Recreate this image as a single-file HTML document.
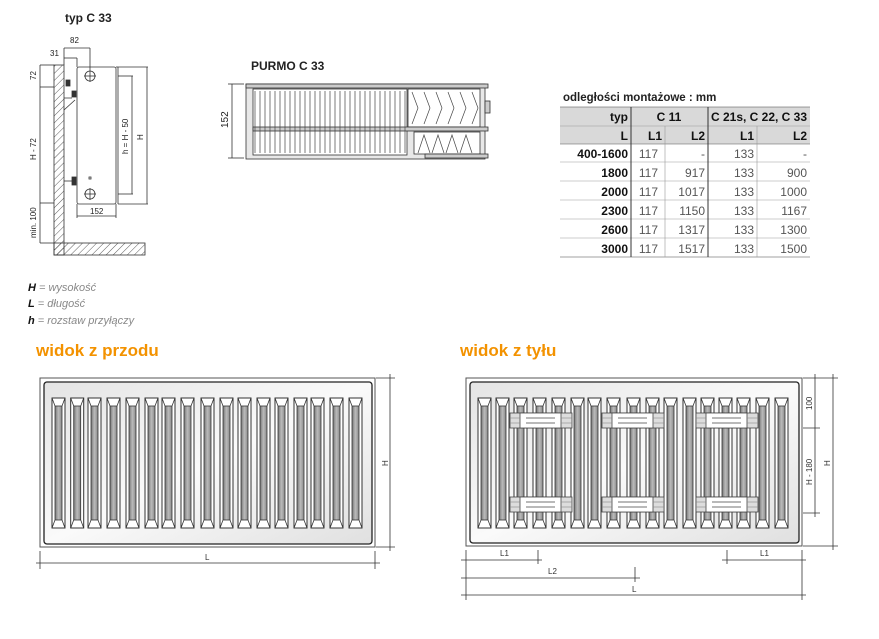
<!DOCTYPE html>
<html><head><meta charset="utf-8"><style>
html,body{margin:0;padding:0;background:#fff;}
svg{display:block;}
text{font-family:"Liberation Sans",sans-serif;}
</style></head><body>
<svg width="879" height="639" viewBox="0 0 879 639" xmlns="http://www.w3.org/2000/svg">
<defs>
<linearGradient id="fg" x1="0" y1="0" x2="1" y2="0">
<stop offset="0" stop-color="#777"/><stop offset="0.5" stop-color="#bbb"/><stop offset="1" stop-color="#888"/>
</linearGradient>
<linearGradient id="pg" x1="0" y1="0" x2="1" y2="1">
<stop offset="0" stop-color="#e4e4e4"/><stop offset="0.5" stop-color="#fafafa"/><stop offset="1" stop-color="#e0e0e0"/>
</linearGradient>
<pattern id="hatch" width="5" height="5" patternUnits="userSpaceOnUse" patternTransform="rotate(45)">
<line x1="0" y1="0" x2="0" y2="5" stroke="#333" stroke-width="0.8"/>
</pattern>
<g id="fin">
<rect x="0" y="0" width="13" height="130" fill="#fff" stroke="#333" stroke-width="1"/>
<rect x="3" y="8" width="7" height="114" fill="url(#fg)" stroke="#333" stroke-width="0.8"/>
<path d="M0 0L3 8M13 0L10 8M0 130L3 122M13 130L10 122" stroke="#333" stroke-width="0.8" fill="none"/>
</g>
<g id="brk">
<rect x="0" y="0" width="62" height="15" fill="#ddd" stroke="#444" stroke-width="0.8"/>
<rect x="10" y="0" width="41" height="15" fill="#fff" stroke="#444" stroke-width="0.8"/>
<line x1="16" y1="5" x2="45" y2="5" stroke="#444" stroke-width="0.8"/>
<line x1="16" y1="10" x2="45" y2="10" stroke="#444" stroke-width="0.8"/>
<line x1="0" y1="5" x2="10" y2="5" stroke="#888" stroke-width="0.6"/>
<line x1="0" y1="10" x2="10" y2="10" stroke="#888" stroke-width="0.6"/>
<line x1="51" y1="5" x2="62" y2="5" stroke="#888" stroke-width="0.6"/>
<line x1="51" y1="10" x2="62" y2="10" stroke="#888" stroke-width="0.6"/>
</g>
</defs>

<!-- side view -->
<text x="65" y="22" font-size="12" font-weight="bold" fill="#222">typ C 33</text>
<g stroke="#333" stroke-width="0.8" fill="none">
<rect x="54" y="65" width="10" height="190" fill="url(#hatch)"/>
<rect x="54" y="243" width="91" height="12" fill="url(#hatch)"/>
<rect x="64" y="65" width="0" height="0"/>
<rect x="77" y="67" width="39" height="137" rx="2" fill="#fff"/>
<line x1="116" y1="67" x2="118" y2="67"/><line x1="118" y1="67" x2="118" y2="204"/>
<circle cx="90" cy="76" r="5"/><line x1="84" y1="76" x2="96" y2="76"/><line x1="90" y1="70" x2="90" y2="82"/>
<circle cx="90" cy="194" r="5"/><line x1="84" y1="194" x2="96" y2="194"/><line x1="90" y1="188" x2="90" y2="200"/>
<rect x="89" y="177" width="2" height="2"/>
<rect x="66" y="80" width="4" height="6" fill="#333"/>
<rect x="72" y="91" width="4" height="6" fill="#333"/>
<path d="M64 98 L72 98 M64 110 L75 100"/>
<rect x="72" y="177" width="4" height="8" fill="#333"/><line x1="64" y1="181" x2="72" y2="181"/>
<line x1="64" y1="48" x2="64" y2="65"/><line x1="90" y1="48" x2="90" y2="70"/><line x1="64" y1="48" x2="90" y2="48"/>
<line x1="64" y1="58" x2="77" y2="58"/><line x1="77" y1="58" x2="77" y2="67"/>
<line x1="40" y1="65" x2="54" y2="65"/><line x1="40" y1="87" x2="54" y2="87"/><line x1="40" y1="203" x2="54" y2="203"/><line x1="40" y1="243" x2="54" y2="243"/>
<line x1="40" y1="65" x2="40" y2="243"/>
<line x1="118" y1="76" x2="133" y2="76"/><line x1="118" y1="194" x2="133" y2="194"/><line x1="132" y1="76" x2="132" y2="194"/>
<line x1="118" y1="67" x2="148" y2="67"/><line x1="118" y1="204" x2="148" y2="204"/><line x1="147" y1="67" x2="147" y2="204"/>
<line x1="77" y1="204" x2="77" y2="218"/><line x1="116" y1="204" x2="116" y2="218"/><line x1="77" y1="216" x2="116" y2="216"/>
</g>
<text x="70" y="43" font-size="8" fill="#222">82</text>
<text x="50" y="56" font-size="8" fill="#222">31</text>
<text transform="translate(36,80) rotate(-90)" font-size="8" fill="#222">72</text>
<text transform="translate(36,160) rotate(-90)" font-size="8" fill="#222">H - 72</text>
<text transform="translate(36,238) rotate(-90)" font-size="8" fill="#222">min. 100</text>
<text transform="translate(128,154) rotate(-90)" font-size="8" fill="#222">h = H - 50</text>
<text transform="translate(143,140) rotate(-90)" font-size="8" fill="#222">H</text>
<text x="90" y="214" font-size="8" fill="#222">152</text>

<text x="28" y="291" font-size="11" font-style="italic" fill="#888"><tspan font-weight="bold" fill="#111">H</tspan> = wysokość</text>
<text x="28" y="307" font-size="11" font-style="italic" fill="#888"><tspan font-weight="bold" fill="#111">L</tspan> = długość</text>
<text x="28" y="324" font-size="11" font-style="italic" fill="#888"><tspan font-weight="bold" fill="#111">h</tspan> = rozstaw przyłączy</text>

<!-- section -->
<text x="251" y="70" font-size="12" font-weight="bold" fill="#222">PURMO C 33</text>
<g stroke="#333" stroke-width="0.8" fill="none">
<line x1="228" y1="84" x2="244" y2="84"/><line x1="228" y1="158" x2="244" y2="158"/><line x1="232" y1="84" x2="232" y2="158"/>
<rect x="246" y="84" width="239" height="75" fill="#e8e8e8"/>
<rect x="253" y="89" width="154" height="66" fill="#fff"/>
<rect x="408" y="89" width="72" height="38" fill="#fff"/>
<rect x="414" y="132" width="66" height="22" fill="#fff"/>
<rect x="485" y="101" width="5" height="12" fill="#ccc"/>
<rect x="246" y="84" width="242" height="4" fill="#ccc"/>
<rect x="253" y="127" width="235" height="4" fill="#ccc"/>
<rect x="425" y="154" width="63" height="4" fill="#ccc"/>
</g>
<g stroke="#444" stroke-width="0.7" fill="none">
<path d="M255 91v62M260 91v62M265 91v62M270 91v62M275 91v62M280 91v62M285 91v62M290 91v62M295 91v62M300 91v62M305 91v62M310 91v62M315 91v62M320 91v62M325 91v62M330 91v62M335 91v62M340 91v62M345 91v62M350 91v62M355 91v62M360 91v62M365 91v62M370 91v62M375 91v62M380 91v62M385 91v62M390 91v62M395 91v62M400 91v62M405 91v62"/>
<path d="M412 92l6 16l-6 16M424 92l6 16l-6 16M436 92l6 16l-6 16M448 92l6 16l-6 16M460 92l6 16l-6 16M472 92l6 16l-6 16"/>
<path d="M418 153l6-18l6 18M432 153l6-18l6 18M446 153l6-18l6 18M460 153l6-18l6 18"/>
</g>
<text transform="translate(228,128) rotate(-90)" font-size="10" fill="#222">152</text>

<!-- table -->
<text x="563" y="101" font-size="11.5" font-weight="bold" fill="#222">odległości montażowe : mm</text>
<rect x="560" y="107" width="250" height="37" fill="#d9d9d9"/>
<g stroke="#999" stroke-width="0.6">
<line x1="560" y1="107" x2="810" y2="107" stroke="#444"/>
<line x1="631" y1="126" x2="810" y2="126"/>
<line x1="560" y1="126" x2="631" y2="126"/>
<line x1="560" y1="144" x2="810" y2="144" stroke="#555"/>
<line x1="560" y1="162" x2="810" y2="162"/><line x1="560" y1="181" x2="810" y2="181"/><line x1="560" y1="200" x2="810" y2="200"/><line x1="560" y1="219" x2="810" y2="219"/><line x1="560" y1="238" x2="810" y2="238"/>
<line x1="560" y1="257" x2="810" y2="257" stroke="#444"/>
<line x1="631" y1="107" x2="631" y2="257" stroke="#333" stroke-width="1"/>
<line x1="708" y1="107" x2="708" y2="257" stroke="#333" stroke-width="1"/>
<line x1="665" y1="126" x2="665" y2="257"/>
<line x1="757" y1="126" x2="757" y2="257"/>
</g>
<g font-size="12" fill="#111" font-weight="bold">
<text x="628" y="121" text-anchor="end">typ</text>
<text x="669" y="121" text-anchor="middle">C 11</text>
<text x="759" y="121" text-anchor="middle">C 21s, C 22, C 33</text>
<text x="628" y="140" text-anchor="end">L</text>
<text x="662" y="140" text-anchor="end">L1</text>
<text x="705" y="140" text-anchor="end">L2</text>
<text x="754" y="140" text-anchor="end">L1</text>
<text x="807" y="140" text-anchor="end">L2</text>
<text x="628" y="158" text-anchor="end">400-1600</text>
<text x="628" y="177" text-anchor="end">1800</text>
<text x="628" y="196" text-anchor="end">2000</text>
<text x="628" y="215" text-anchor="end">2300</text>
<text x="628" y="234" text-anchor="end">2600</text>
<text x="628" y="253" text-anchor="end">3000</text>
</g>
<g font-size="12" fill="#555">
<text x="658" y="158" text-anchor="end">117</text><text x="705" y="158" text-anchor="end">-</text><text x="754" y="158" text-anchor="end">133</text><text x="807" y="158" text-anchor="end">-</text>
<text x="658" y="177" text-anchor="end">117</text><text x="705" y="177" text-anchor="end">917</text><text x="754" y="177" text-anchor="end">133</text><text x="807" y="177" text-anchor="end">900</text>
<text x="658" y="196" text-anchor="end">117</text><text x="705" y="196" text-anchor="end">1017</text><text x="754" y="196" text-anchor="end">133</text><text x="807" y="196" text-anchor="end">1000</text>
<text x="658" y="215" text-anchor="end">117</text><text x="705" y="215" text-anchor="end">1150</text><text x="754" y="215" text-anchor="end">133</text><text x="807" y="215" text-anchor="end">1167</text>
<text x="658" y="234" text-anchor="end">117</text><text x="705" y="234" text-anchor="end">1317</text><text x="754" y="234" text-anchor="end">133</text><text x="807" y="234" text-anchor="end">1300</text>
<text x="658" y="253" text-anchor="end">117</text><text x="705" y="253" text-anchor="end">1517</text><text x="754" y="253" text-anchor="end">133</text><text x="807" y="253" text-anchor="end">1500</text>
</g>

<!-- headings -->
<text x="36" y="356" font-size="17" font-weight="bold" fill="#f39200">widok z przodu</text>
<text x="460" y="356" font-size="17" font-weight="bold" fill="#f39200">widok z tyłu</text>

<!-- front view -->
<rect x="40" y="378" width="335" height="169" fill="#fff" stroke="#555" stroke-width="1"/>
<rect x="44" y="382" width="328" height="162" rx="3" fill="url(#pg)" stroke="#222" stroke-width="1.3"/>
<g>
<use href="#fin" x="52" y="398"/><use href="#fin" x="70.7" y="398"/><use href="#fin" x="88" y="398"/><use href="#fin" x="107" y="398"/><use href="#fin" x="126" y="398"/><use href="#fin" x="145" y="398"/><use href="#fin" x="162" y="398"/><use href="#fin" x="181" y="398"/><use href="#fin" x="201" y="398"/><use href="#fin" x="220" y="398"/><use href="#fin" x="238" y="398"/><use href="#fin" x="257" y="398"/><use href="#fin" x="275" y="398"/><use href="#fin" x="294" y="398"/><use href="#fin" x="311" y="398"/><use href="#fin" x="330" y="398"/><use href="#fin" x="349" y="398"/>
</g>
<g stroke="#333" stroke-width="0.8">
<line x1="376" y1="378" x2="395" y2="378"/><line x1="376" y1="547" x2="395" y2="547"/><line x1="390" y1="374" x2="390" y2="551"/>
<line x1="40" y1="551" x2="40" y2="569"/><line x1="375" y1="551" x2="375" y2="569"/><line x1="36" y1="563" x2="380" y2="563"/>
</g>
<text transform="translate(388,466) rotate(-90)" font-size="8" fill="#333">H</text>
<text x="205" y="560" font-size="8" fill="#333">L</text>

<!-- back view -->
<rect x="466" y="378" width="336" height="168" fill="#fff" stroke="#555" stroke-width="1"/>
<rect x="470" y="382" width="329" height="161" rx="3" fill="url(#pg)" stroke="#222" stroke-width="1.3"/>
<g>
<use href="#fin" x="478" y="398"/><use href="#fin" x="496" y="398"/><use href="#fin" x="514" y="398"/><use href="#fin" x="533" y="398"/><use href="#fin" x="552" y="398"/><use href="#fin" x="571" y="398"/><use href="#fin" x="588" y="398"/><use href="#fin" x="607" y="398"/><use href="#fin" x="627" y="398"/><use href="#fin" x="646" y="398"/><use href="#fin" x="664" y="398"/><use href="#fin" x="683" y="398"/><use href="#fin" x="701" y="398"/><use href="#fin" x="719" y="398"/><use href="#fin" x="737" y="398"/><use href="#fin" x="756" y="398"/><use href="#fin" x="775" y="398"/>
</g>
<use href="#brk" x="510" y="413"/><use href="#brk" x="602" y="413"/><use href="#brk" x="696" y="413"/>
<use href="#brk" x="510" y="497"/><use href="#brk" x="602" y="497"/><use href="#brk" x="696" y="497"/>
<g stroke="#333" stroke-width="0.8">
<line x1="803" y1="378" x2="838" y2="378"/><line x1="803" y1="428" x2="820" y2="428"/><line x1="803" y1="513" x2="820" y2="513"/><line x1="803" y1="546" x2="838" y2="546"/>
<line x1="815" y1="374" x2="815" y2="517"/><line x1="833" y1="374" x2="833" y2="550"/>
<line x1="466" y1="550" x2="466" y2="600"/><line x1="802" y1="550" x2="802" y2="600"/>
<line x1="538" y1="550" x2="538" y2="564"/><line x1="727" y1="550" x2="727" y2="564"/><line x1="635" y1="567" x2="635" y2="582"/>
<line x1="461" y1="560" x2="542" y2="560"/><line x1="722" y1="560" x2="806" y2="560"/>
<line x1="461" y1="578" x2="640" y2="578"/><line x1="461" y1="595" x2="806" y2="595"/>
</g>
<g font-size="8" fill="#333">
<text transform="translate(812,410) rotate(-90)">100</text>
<text transform="translate(812,485) rotate(-90)">H - 180</text>
<text transform="translate(830,466) rotate(-90)">H</text>
<text x="500" y="556">L1</text><text x="760" y="556">L1</text><text x="548" y="574">L2</text><text x="632" y="592">L</text>
</g>
</svg>
</body></html>
